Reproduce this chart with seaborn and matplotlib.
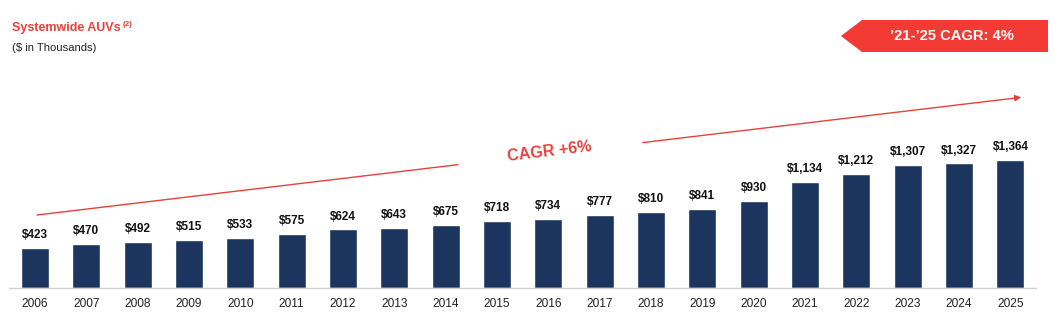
import matplotlib
matplotlib.use("Agg")
import matplotlib.pyplot as plt
import seaborn as sns
import pandas as pd
from matplotlib.patches import Polygon, FancyArrowPatch
from matplotlib.lines import Line2D

years = [str(y) for y in range(2006, 2026)]
auvs = [423, 470, 492, 515, 533, 575, 624, 643, 675, 718, 734, 777, 810, 841, 930,
        1134, 1212, 1307, 1327, 1364]
value_labels = ["$" + format(v, ",") for v in auvs]

NAVY = "#1c355e"
RED = "#e8413c"
BANNER = "#f23b35"

sns.set_theme(style="white")
plt.rcParams['font.family'] = ['Liberation Sans', 'DejaVu Sans']

W, H = 1064, 322
fig = plt.figure(figsize=(W / 100, H / 100), dpi=100)

def fx(px):
    return px / W

def fy(py):
    return 1 - py / H

ax = fig.add_axes([fx(9.3), fy(288), fx(1026.7), (288 - 60) / H])
df = pd.DataFrame({"year": years, "auv": auvs})
sns.barplot(data=df, x="year", y="auv", color=NAVY, width=0.545, ax=ax, saturation=1)
ax.set_xlim(-0.5, len(years) - 0.5)
ax.set_ylim(0, 2430)
ax.set_xlabel("")
ax.set_ylabel("")
ax.set_yticks([])
for s in ["top", "right", "left"]:
    ax.spines[s].set_visible(False)
ax.spines["bottom"].set_color("#d0d0d0")
ax.spines["bottom"].set_linewidth(1.0)
ax.tick_params(axis="x", length=0, pad=7, labelsize=8.6, labelcolor="#222222")

for i, (v, lab) in enumerate(zip(auvs, value_labels)):
    ax.annotate(lab, (i, v), xytext=(0, 5), textcoords="offset points",
                ha="center", va="bottom", fontsize=8.5, fontweight="bold", color="#111111")

# Title
fig.text(fx(12), fy(28), "Systemwide AUVs", color=RED, fontsize=9.0, fontweight="bold",
         ha="left", va="center")
fig.text(fx(123), fy(24), "(2)", color=RED, fontsize=5.8, fontweight="bold",
         ha="left", va="center")
fig.text(fx(12), fy(48), "($ in Thousands)", color="#222222", fontsize=8.1,
         ha="left", va="center")

# Banner
poly = Polygon([(fx(841), fy(36)), (fx(862), fy(20)), (fx(1048), fy(20)),
                (fx(1048), fy(52)), (fx(862), fy(52))], closed=True,
               transform=fig.transFigure, facecolor=BANNER, edgecolor="none")
fig.add_artist(poly)
fig.text(fx(952), fy(36), "\u201921-\u201925 CAGR: 4%", color="white", fontsize=10.6,
         fontweight="bold", ha="center", va="center")

# CAGR trend arrow
x0, y0, x1, y1 = 37, 215, 1024, 97
def ypt(x):
    return y0 + (y1 - y0) * (x - x0) / (x1 - x0)
fig.add_artist(Line2D([fx(x0), fx(458)], [fy(y0), fy(ypt(458))], transform=fig.transFigure,
                      color=RED, linewidth=1.0))
fig.add_artist(FancyArrowPatch((fx(640), fy(ypt(640))), (fx(x1), fy(y1)),
                               transform=fig.transFigure, arrowstyle="-|>",
                               mutation_scale=9, color=RED, linewidth=1.0))
fig.text(fx(549), fy(ypt(549) - 2), "CAGR +6%", color=RED, fontsize=11.6, fontweight="bold",
         ha="center", va="center", rotation=6.8, rotation_mode="anchor")

fig.savefig("out.png", dpi=100)
